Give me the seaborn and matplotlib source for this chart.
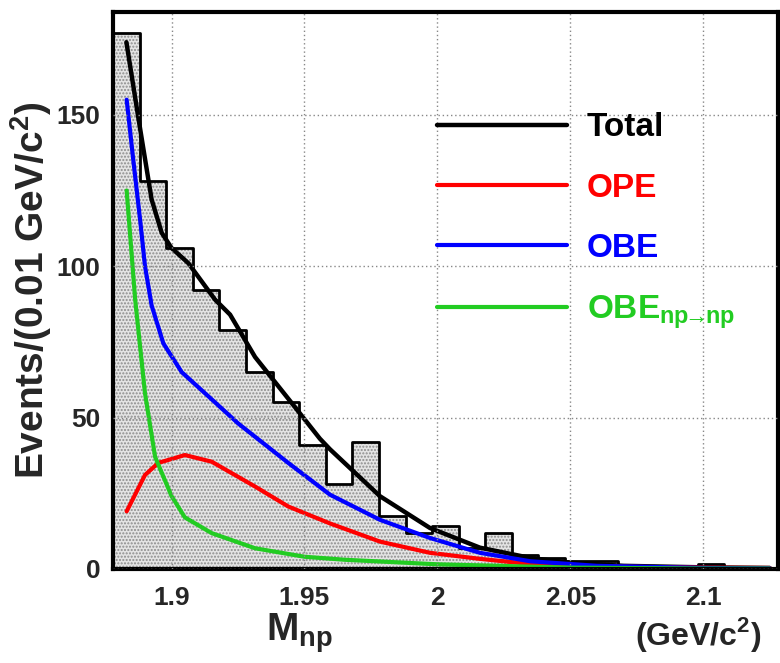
import matplotlib
matplotlib.use("Agg")
import matplotlib.pyplot as plt
import seaborn as sns
import numpy as np
import pandas as pd
from matplotlib.ticker import MultipleLocator

# histogram: 0.01 GeV bins from threshold 1.878
bin_edges = [1.878 + 0.01 * i for i in range(26)]
counts = [177, 128, 106, 92, 79, 65, 55, 41, 28, 42, 17.5, 12, 14, 7, 12,
          4.5, 3.5, 2.5, 2.5, 0, 0, 0, 1.5, 0.5, 0]

total_x = [1.883, 1.8875, 1.8925, 1.8963, 1.9, 1.9063, 1.9163, 1.922, 1.9314, 1.945,
           1.9558, 1.9596, 1.9784, 1.9972, 2.016, 2.035, 2.05, 2.07, 2.1, 2.125]
total_y = [174, 149, 122, 111, 106, 101, 89, 84, 70, 55,
           43, 39.5, 24, 13.5, 7, 3.6, 2, 1, 0.5, 0.3]

ope_x = [1.8831, 1.890, 1.895, 1.905, 1.9151, 1.9314, 1.9439, 1.9596, 1.9784,
         1.9972, 2.016, 2.035, 2.06, 2.1, 2.125]
ope_y = [19, 31, 35, 37.6, 35.4, 27.2, 20.6, 15, 9, 5.3, 3.3, 1.6, 0.8, 0.4, 0.3]

obe_x = [1.8831, 1.8856, 1.8882, 1.890, 1.8925, 1.8969, 1.9038, 1.9151, 1.9251,
         1.9439, 1.9596, 1.9784, 1.9972, 2.016, 2.035, 2.06, 2.1, 2.125]
obe_y = [155, 135, 115, 100, 87, 74.5, 65, 56, 48, 35, 24.5, 16.2, 10.2, 5.3, 2.5, 1, 0.3, 0.2]

obenp_x = [1.8831, 1.8863, 1.890, 1.8938, 1.900, 1.905, 1.9151, 1.9314, 1.950,
           1.9652, 2.0, 2.05, 2.1, 2.125]
obenp_y = [125, 89, 58, 37, 24, 17, 11.8, 6.8, 4, 3, 1.5, 0.4, 0.1, 0.1]

sns.set_style("white")
plt.rcParams['font.family'] = ['Liberation Sans', 'DejaVu Sans']
plt.rcParams['font.weight'] = 'bold'
plt.rcParams['mathtext.fontset'] = 'custom'
plt.rcParams['mathtext.rm'] = 'Liberation Sans'
plt.rcParams['mathtext.bf'] = 'Liberation Sans:bold'
plt.rcParams['hatch.color'] = '#8c8c8c'
plt.rcParams['hatch.linewidth'] = 1.0

fig = plt.figure(figsize=(7.8, 6.63), dpi=100)
ax = fig.add_axes([0.145, 0.142, 0.852, 0.840])

centers = [(bin_edges[i] + bin_edges[i + 1]) / 2 for i in range(len(counts))]
hist = pd.DataFrame({"m": centers, "n": counts})

sns.histplot(data=hist, x="m", weights="n", bins=bin_edges, element="step",
             fill=True, color="#e4e4e4", alpha=1, linewidth=0, ax=ax)
for coll in ax.collections:
    coll.set_hatch('.....')
    coll.set_edgecolor('#8c8c8c')
    coll.set_linewidth(0)
sns.histplot(data=hist, x="m", weights="n", bins=bin_edges, element="step",
             fill=False, color="black", linewidth=2, ax=ax)

sns.lineplot(x=total_x, y=total_y, color="black", linewidth=3.2, label="Total", ax=ax)
sns.lineplot(x=ope_x, y=ope_y, color="#ff0000", linewidth=3, label="OPE", ax=ax)
sns.lineplot(x=obe_x, y=obe_y, color="#0000ff", linewidth=3, label="OBE", ax=ax)
sns.lineplot(x=obenp_x, y=obenp_y, color="#22cc22", linewidth=3,
             label=r"OBE$_{\rm np\!\!\rightarrow\!\!np}$", ax=ax)

ax.set_xlim(1.878, 2.128)
ax.set_ylim(0, 184)
ax.set_xticks([1.9, 1.95, 2.0, 2.05, 2.1], ["1.9", "1.95", "2", "2.05", "2.1"])
ax.set_yticks([0, 50, 100, 150])
ax.xaxis.set_minor_locator(MultipleLocator(0.01))
ax.yaxis.set_minor_locator(MultipleLocator(10))
ax.tick_params(which='both', direction='in', top=False, right=False,
               labelsize=19, width=1.5)
ax.tick_params(which='major', length=14)
ax.tick_params(axis='x', which='major', pad=12)
ax.tick_params(axis='y', which='major', pad=9)
ax.tick_params(which='minor', length=8)
ax.grid(True, which='major', color='#888888', linestyle=(0, (1, 2)), linewidth=1)
ax.set_axisbelow(False)
for s in ax.spines.values():
    s.set_linewidth(3)
    s.set_color('black')

ax.set_xlabel("")
ax.set_ylabel(r"Events/(0.01 GeV/c$^{\bf 2}$)", fontsize=28, fontweight='bold',
              labelpad=2)
ax.text(0.28, -0.115, r"M$_{\bf np}$", transform=ax.transAxes, fontsize=28,
        fontweight='bold', ha='center', va='center')
ax.text(0.88, -0.118, r"(GeV/c$^{\bf 2}$)", transform=ax.transAxes, fontsize=23,
        fontweight='bold', ha='center', va='center')

ax.legend(loc='upper left', bbox_to_anchor=(0.487, 0.82), frameon=False,
          fontsize=24, handlelength=3.9, handletextpad=0.6, labelspacing=0.88,
          borderpad=0, borderaxespad=0, labelcolor='linecolor')

fig.savefig("out.png", dpi=100)
